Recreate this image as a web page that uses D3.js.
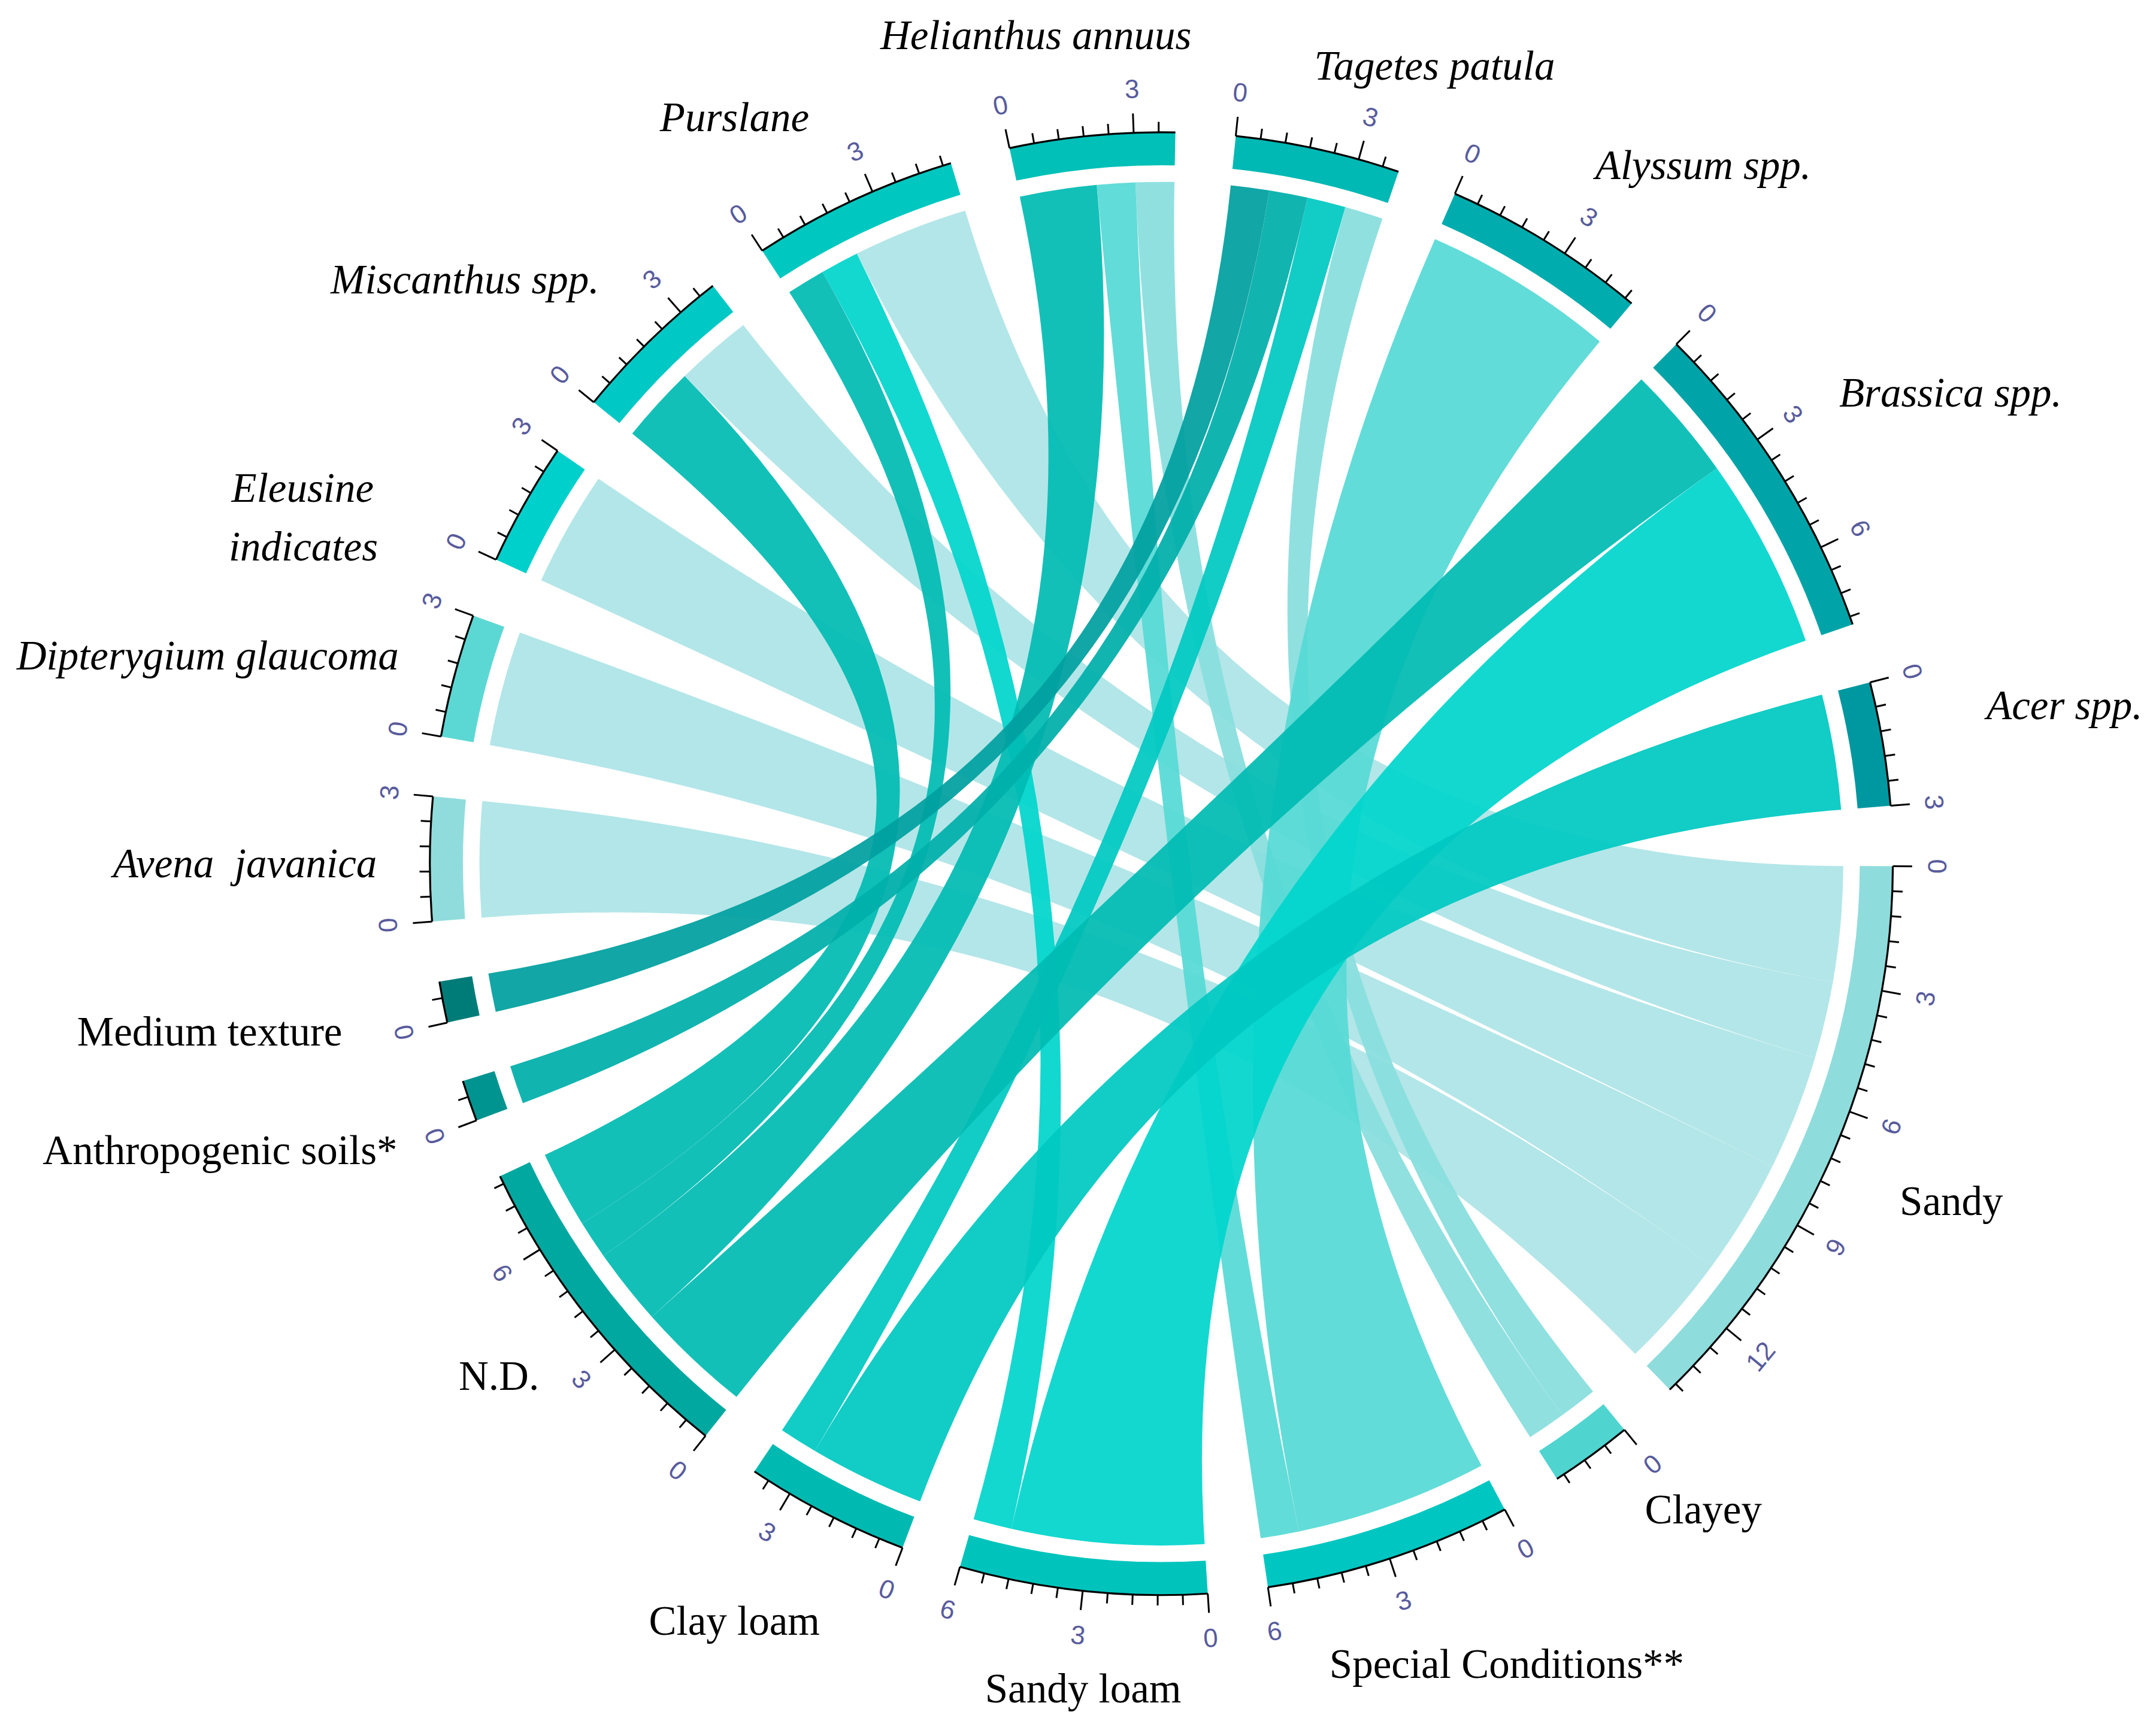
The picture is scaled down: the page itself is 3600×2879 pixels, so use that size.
<!DOCTYPE html>
<html>
<head>
<meta charset="utf-8">
<script src="https://cdn.jsdelivr.net/npm/d3@7"></script>
<style>
  html, body { margin: 0; padding: 0; background: #fff; }
  svg { display: block; }
  .sector-label { font-family: "Liberation Serif", "Times New Roman", serif; font-size: 30px; fill: #000; white-space: pre; }
  .sector-label.plant { font-style: italic; }
  .tick-label { font-family: "Liberation Sans", Arial, sans-serif; font-size: 19px; fill: #585b9c; }
</style>
</head>
<body>
<div id="chart"></div>
<script>
// soil types, clockwise from 3 o'clock
const soils = ["Sandy", "Clayey", "Special Conditions**", "Sandy loam", "Clay loam", "N.D.", "Anthropogenic soils*", "Medium texture"];
// plants, continuing clockwise
const plants = ["Avena  javanica", "Dipterygium glaucoma", "Eleusine indicates", "Miscanthus spp.", "Purslane",
  "Helianthus annuus", "Tagetes patula", "Alyssum spp.", "Brassica spp.", "Acer spp."];

// links plant -> soil (number of studies)
const linkPlant = ["Avena  javanica", "Dipterygium glaucoma", "Eleusine indicates",
  "Miscanthus spp.", "Miscanthus spp.",
  "Purslane", "Purslane", "Purslane",
  "Helianthus annuus", "Helianthus annuus", "Helianthus annuus",
  "Tagetes patula", "Tagetes patula", "Tagetes patula", "Tagetes patula",
  "Alyssum spp.", "Brassica spp.", "Brassica spp.", "Acer spp."];
const linkSoil = ["Sandy", "Sandy", "Sandy",
  "N.D.", "Sandy",
  "N.D.", "Sandy loam", "Sandy",
  "N.D.", "Special Conditions**", "Clayey",
  "Medium texture", "Anthropogenic soils*", "Clay loam", "Clayey",
  "Special Conditions**", "N.D.", "Sandy loam", "Clay loam"];
const linkValue = [3, 3, 3, 2, 2, 1, 1, 3, 2, 1, 1, 1, 1, 1, 1, 5, 3, 5, 3];

const majorStep = 3;
const minorStep = 0.6;

(function () {
  "use strict";

  const W = 1565, H = 1251.6;
  const cx = 843, cy = 627;
  const rChord = 495, rGridIn = 507, rGridOut = 531, rTickLabel = 563;
  const gapDeg = 4.74, startDeg = 0.2;

  // outer track colours
  const gridColor = {
    "Sandy": "#8fdcdc", "Clayey": "#50d4d0", "Special Conditions**": "#00c6c2", "Sandy loam": "#00c4bc",
    "Clay loam": "#00bab2", "N.D.": "#00a8a0", "Anthropogenic soils*": "#009490", "Medium texture": "#007c78",
    "Avena  javanica": "#90dcdc", "Dipterygium glaucoma": "#5cd8d4", "Eleusine indicates": "#00d0cc",
    "Miscanthus spp.": "#00c8c4", "Purslane": "#00c8c0", "Helianthus annuus": "#00c0b8",
    "Tagetes patula": "#00b8b4", "Alyssum spp.": "#00acae", "Brassica spp.": "#00a4a8", "Acer spp.": "#0098a0"
  };
  // chord colour as seen on white, by soil
  const chordColor = {
    "Sandy": "#b3e6e8", "Clayey": "#90e0e0", "Special Conditions**": "#62dcd8", "Sandy loam": "#00d8d0",
    "Clay loam": "#00ccc6", "N.D.": "#00c0b8", "Anthropogenic soils*": "#00b4b0", "Medium texture": "#00a6a6"
  };
  const chordAlpha = 0.93;
  function baseColor(hex) {
    const c = d3.rgb(hex);
    const f = (v) => Math.max(0, Math.min(255, (v - 255 * (1 - chordAlpha)) / chordAlpha));
    return d3.rgb(f(c.r), f(c.g), f(c.b)).formatHex();
  }

  // label placement (hand placed in the original figure)
  const labelPos = {
    "Helianthus annuus": [[639, 35.5]],
    "Tagetes patula": [[954, 58]],
    "Alyssum spp.": [[1158, 130]],
    "Brassica spp.": [[1335, 295]],
    "Acer spp.": [[1442, 522]],
    "Sandy": [[1379, 882]],
    "Clayey": [[1194, 1106]],
    "Special Conditions**": [[965, 1218]],
    "Sandy loam": [[715, 1236]],
    "Clay loam": [[471, 1187]],
    "N.D.": [[333, 1009]],
    "Anthropogenic soils*": [[31, 845]],
    "Medium texture": [[56, 759]],
    "Avena  javanica": [[82, 637]],
    "Dipterygium glaucoma": [[12, 486]],
    "Eleusine indicates": [[168, 364.5, "Eleusine"], [166, 407, "indicates"]],
    "Miscanthus spp.": [[240, 213]],
    "Purslane": [[479, 95]]
  };

  const sectors = soils.concat(plants);
  const totals = new Map(sectors.map((s) => [s, 0]));
  linkValue.forEach((v, i) => {
    totals.set(linkPlant[i], totals.get(linkPlant[i]) + v);
    totals.set(linkSoil[i], totals.get(linkSoil[i]) + v);
  });
  const grand = d3.sum(sectors, (s) => totals.get(s));
  const unitDeg = (360 - gapDeg * sectors.length) / grand;

  // one linear scale per sector: value -> angle (degrees, clockwise from 3 o'clock)
  const scales = new Map();
  let acc = startDeg;
  sectors.forEach((s) => {
    const span = totals.get(s) * unitDeg;
    scales.set(s, d3.scaleLinear().domain([0, totals.get(s)]).range([acc, acc + span]));
    acc += span + gapDeg;
  });
  const midDeg = (s) => scales.get(s)(totals.get(s) / 2);
  const rad = (deg) => (deg * Math.PI) / 180;

  // place link ends inside each sector (nearest partner counter-clockwise first)
  const ends = linkValue.map(() => ({}));
  sectors.forEach((s) => {
    const idx = d3.range(linkValue.length).filter((i) => linkPlant[i] === s || linkSoil[i] === s);
    const partner = (i) => (linkPlant[i] === s ? linkSoil[i] : linkPlant[i]);
    idx.sort((a, b) => {
      const da = (((midDeg(s) - midDeg(partner(a))) % 360) + 360) % 360;
      const db = (((midDeg(s) - midDeg(partner(b))) % 360) + 360) % 360;
      return da - db;
    });
    let off = 0;
    const sc = scales.get(s);
    idx.forEach((i) => {
      const key = linkPlant[i] === s ? "plant" : "soil";
      ends[i][key] = { startAngle: rad(sc(off)) + Math.PI / 2, endAngle: rad(sc(off + linkValue[i])) + Math.PI / 2 };
      off += linkValue[i];
    });
  });

  const svg = d3.select("#chart")
    .append("svg")
    .attr("width", 3600)
    .attr("height", 2879)
    .attr("viewBox", `0 0 ${W} ${H}`);

  const g = svg.append("g").attr("transform", `translate(${cx},${cy})`);

  // chords
  const ribbon = d3.ribbon().radius(rChord);
  const order = d3.range(linkValue.length).sort((a, b) => soils.indexOf(linkSoil[a]) - soils.indexOf(linkSoil[b]));
  g.append("g")
    .selectAll("path")
    .data(order)
    .join("path")
    .attr("d", (i) => ribbon({ source: ends[i].plant, target: ends[i].soil }))
    .attr("fill", (i) => baseColor(chordColor[linkSoil[i]]))
    .attr("fill-opacity", chordAlpha);

  // outer grid track
  const arc = d3.arc().innerRadius(rGridIn).outerRadius(rGridOut);
  g.append("g")
    .selectAll("path")
    .data(sectors)
    .join("path")
    .attr("d", (s) => {
      const sc = scales.get(s);
      return arc({ startAngle: rad(sc(0)) + Math.PI / 2, endAngle: rad(sc(totals.get(s))) + Math.PI / 2 });
    })
    .attr("fill", (s) => gridColor[s]);

  // axes
  const axes = g.append("g").attr("class", "axes");
  sectors.forEach((s) => {
    const sc = scales.get(s);
    const p = d3.path();
    p.arc(0, 0, rGridOut, rad(sc(0)), rad(sc(totals.get(s))));
    axes.append("path").attr("d", p.toString()).attr("fill", "none").attr("stroke", "#000").attr("stroke-width", 1.4);

    const ticks = d3.range(0, totals.get(s) + 1e-6, minorStep);
    ticks.forEach((v) => {
      const major = Math.abs(v / majorStep - Math.round(v / majorStep)) < 1e-6;
      const a = rad(sc(v));
      const len = major ? 14 : 7.5;
      axes.append("line")
        .attr("x1", rGridOut * Math.cos(a)).attr("y1", rGridOut * Math.sin(a))
        .attr("x2", (rGridOut + len) * Math.cos(a)).attr("y2", (rGridOut + len) * Math.sin(a))
        .attr("stroke", "#000").attr("stroke-width", 1.3);
      if (major) {
        const deg = ((sc(v) % 360) + 360) % 360;
        const rot = deg > 0 && deg < 180 ? deg - 90 : deg + 90;
        axes.append("text")
          .attr("class", "tick-label")
          .attr("transform", `translate(${rTickLabel * Math.cos(a)},${rTickLabel * Math.sin(a)}) rotate(${rot})`)
          .attr("text-anchor", "middle")
          .attr("dominant-baseline", "central")
          .text(Math.round(v));
      }
    });
  });

  // sector names
  const labels = svg.append("g");
  sectors.forEach((s) => {
    labelPos[s].forEach((pos) => {
      labels.append("text")
        .attr("class", plants.includes(s) ? "sector-label plant" : "sector-label")
        .attr("x", pos[0])
        .attr("y", pos[1])
        .text(pos[2] || s);
    });
  });
})();
</script>
</body>
</html>
